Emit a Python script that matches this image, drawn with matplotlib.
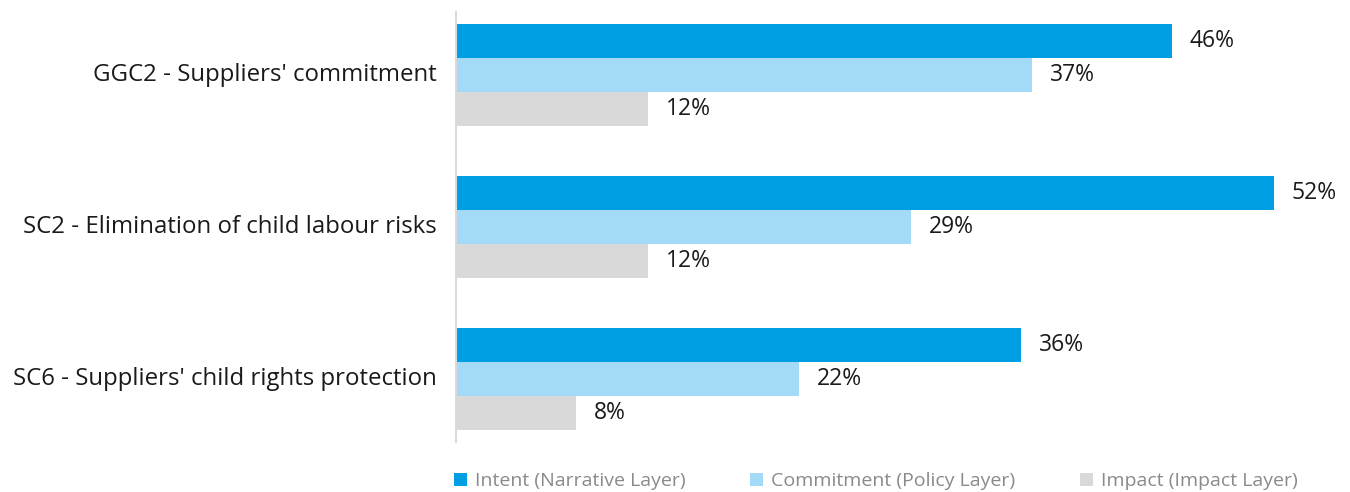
import numpy as np
import matplotlib.pyplot as plt

plt.rcParams['font.family'] = ['Open Sans', 'DejaVu Sans']

categories = ["GGC2 - Suppliers' commitment",
              "SC2 - Elimination of child labour risks",
              "SC6 - Suppliers' child rights protection"]
series_names = ['Intent (Narrative Layer)',
                'Commitment (Policy Layer)',
                'Impact (Impact Layer)']
intent = [45.5, 52.0, 35.9]
commitment = [36.6, 28.9, 21.8]
impact = [12.2, 12.2, 7.6]
colors = ['#009FE3', '#A2DAF7', '#D9D9D9']

fig = plt.figure(figsize=(13.5, 4.92), dpi=100)
ax = fig.add_axes([456 / 1350, 1 - 442 / 492, 865 / 1350, 430 / 492])

y = np.arange(len(categories))
h = 0.223
for i, (vals, name) in enumerate(zip([intent, commitment, impact], series_names)):
    bars = ax.barh(y + (i - 1) * h, vals, height=h, color=colors[i], label=name)
    ax.bar_label(bars, labels=[f'{round(v)}%' for v in vals], padding=13,
                 fontsize=16.5, color='#1a1a1a', clip_on=False)

ax.set_xlim(0, 55)
ax.set_ylim(2.41, -0.41)
ax.set_yticks(y)
ax.set_yticklabels(categories, fontsize=17.3, color='#1a1a1a', va='center')
ax.tick_params(axis='y', length=0, pad=14)
ax.set_xticks([])
for s in ['top', 'right', 'bottom']:
    ax.spines[s].set_visible(False)
ax.spines['left'].set_color('#d9d9d9')
ax.spines['left'].set_linewidth(1.5)

leg = fig.legend(loc='center', bbox_to_anchor=(876 / 1350, 1 - 481 / 492), ncol=3,
                 frameon=False, fontsize=14, handlelength=0.67, handleheight=0.67,
                 handletextpad=0.41, columnspacing=3.34, labelcolor='#8a8a8a')

fig.savefig('out.png', dpi=100)
